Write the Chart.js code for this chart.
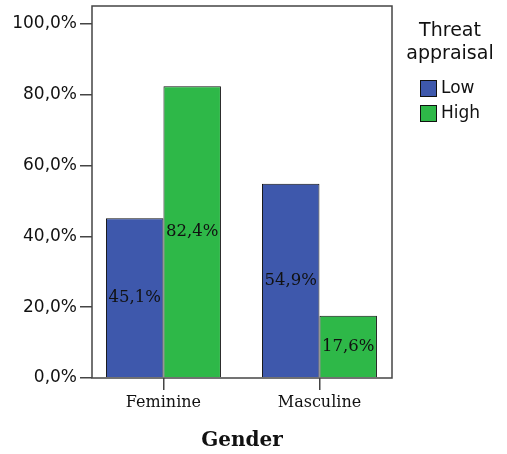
<!DOCTYPE html>
<html>
<head>
<meta charset="utf-8">
<script src="https://cdn.jsdelivr.net/npm/chart.js@4"></script>
<style>
  html, body { margin: 0; padding: 0; background: #fff; }
  #wrap { width: 507px; height: 454px; }
</style>
</head>
<body>
<div id="wrap"><canvas id="chart" width="507" height="454"></canvas></div>
<script>
// data
const categories = ["Feminine", "Masculine"];
const seriesNames = ["Low", "High"];
const lowValues = [45.1, 54.9];
const highValues = [82.4, 17.6];
const yTicks = [0, 20, 40, 60, 80, 100];
const legendTitle = ["Threat", "appraisal"];
const xTitle = "Gender";

const colors = ["#3e58ac", "#2eb848"];

function pct(v) {
  return v.toFixed(1).replace(".", ",") + "%";
}

function points(values) {
  return values.map((v, i) => ({ x: i, y: v }));
}

// frame round the plot, labels inside bars, legend at right
const extras = {
  id: "extras",
  afterDatasetsDraw(chart) {
    const ctx = chart.ctx;
    const a = chart.chartArea;
    ctx.save();

    // labels
    ctx.font = "16.5px 'DejaVu Serif'";
    ctx.fillStyle = "#111";
    ctx.textAlign = "center";
    ctx.textBaseline = "middle";
    chart.data.datasets.forEach((ds, di) => {
      chart.getDatasetMeta(di).data.forEach((bar, i) => {
        const y = (bar.y + bar.base) / 2;
        ctx.fillText(pct(ds.data[i].y), bar.x, y);
      });
    });

    // frame
    ctx.strokeStyle = "#444";
    ctx.lineWidth = 1.5;
    ctx.strokeRect(a.left, a.top, a.right - a.left, a.bottom - a.top);

    // legend
    ctx.fillStyle = "#111";
    ctx.font = "19px 'DejaVu Sans'";
    ctx.textAlign = "center";
    legendTitle.forEach((t, i) => ctx.fillText(t, 450, 31 + i * 23));
    ctx.font = "17px 'DejaVu Sans'";
    ctx.textAlign = "left";
    chart.data.datasets.forEach((ds, i) => {
      const y = 80 + i * 25;
      ctx.fillStyle = ds.backgroundColor;
      ctx.fillRect(420, y, 17, 17);
      ctx.strokeStyle = "#111";
      ctx.lineWidth = 1;
      ctx.strokeRect(420.5, y + 0.5, 16, 16);
      ctx.fillStyle = "#111";
      ctx.fillText(ds.label, 441, y + 9);
    });
    ctx.restore();
  }
};

new Chart(document.getElementById("chart"), {
  type: "bar",
  data: {
    datasets: [
      {
        label: seriesNames[0],
        data: points(lowValues),
        backgroundColor: colors[0],
        borderColor: "#111",
        borderWidth: 1,
      },
      {
        label: seriesNames[1],
        data: points(highValues),
        backgroundColor: colors[1],
        borderColor: "#111",
        borderWidth: 1,
      },
    ],
  },
  options: {
    responsive: false,
    animation: false,
    maintainAspectRatio: false,
    layout: { padding: { left: 0, top: 6, right: 115, bottom: 0 } },
    datasets: { bar: { categoryPercentage: 0.737, barPercentage: 1 } },
    plugins: { legend: { display: false }, tooltip: { enabled: false } },
    scales: {
      x: {
        type: "linear",
        min: -0.458,
        max: 1.465,
        offset: false,
        afterBuildTicks: (s) => { s.ticks = categories.map((c, i) => ({ value: i })); },
        afterFit: (s) => { s.height = 76; s.paddingLeft = 0; s.paddingRight = 0; },
        grid: { offset: false, drawOnChartArea: false, drawTicks: true, tickLength: 12, color: "#444", lineWidth: 1.5 },
        border: { display: false },
        ticks: {
          callback: (v) => categories[v],
          font: { family: "'DejaVu Serif'", size: 16 },
          color: "#111",
          padding: 3,
          maxRotation: 0,
        },
        title: {
          display: true,
          text: xTitle,
          font: { family: "'DejaVu Serif'", size: 20, weight: "bold" },
          color: "#111",
          padding: { top: 0, bottom: 1 },
        },
      },
      y: {
        min: 0,
        max: 105.1,
        afterBuildTicks: (s) => { s.ticks = yTicks.map((v) => ({ value: v })); },
        afterFit: (s) => { s.width = 92; s.paddingTop = 0; s.paddingBottom = 0; },
        grid: { drawOnChartArea: false, drawTicks: true, tickLength: 12, color: "#444", lineWidth: 1.5 },
        border: { display: false },
        ticks: {
          callback: (v) => pct(v),
          font: { family: "'DejaVu Sans'", size: 17 },
          color: "#111",
          padding: 3,
        },
      },
    },
  },
  plugins: [extras],
});
</script>
</body>
</html>
